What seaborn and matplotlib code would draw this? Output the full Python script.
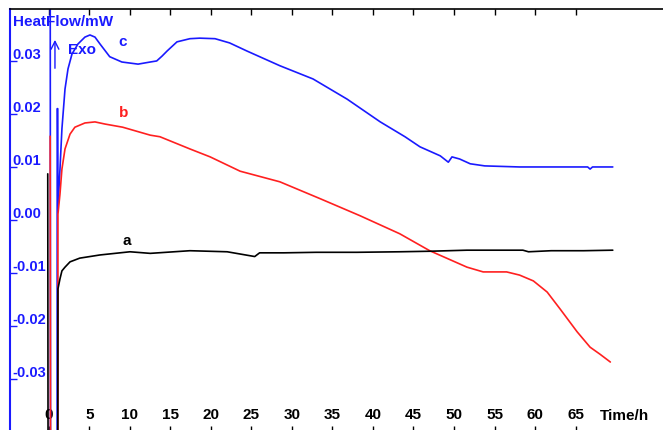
import numpy as np
import pandas as pd
import matplotlib
matplotlib.use("Agg")
import matplotlib.pyplot as plt
import seaborn as sns

# 曲线 a（黑）
t_a = [-0.15, -0.1, 1.08, 1.11, 1.36, 1.6, 1.98, 2.6, 3.8, 6.3, 10.0, 12.5, 17.4, 22.0,
       25.4, 26.0, 29.0, 33.0, 38.0, 43.3, 47.0, 51.6, 56.0, 58.5, 59.2, 62.0, 66.0, 69.6]
v_a = [0.0087, -0.06, -0.06, -0.0130, -0.0111, -0.0096, -0.0089, -0.0079, -0.0072, -0.0066,
       -0.0060, -0.0063, -0.0058, -0.0060, -0.0069, -0.0062, -0.0062, -0.0061, -0.0061, -0.0060,
       -0.0059, -0.0057, -0.0057, -0.0057, -0.0060, -0.0058, -0.0058, -0.0057]

# 曲线 b（红）
t_b = [0.15, 0.2, 1.1, 1.11, 1.36, 1.6, 1.98, 2.6, 3.2, 4.44, 5.68, 6.9, 9.1, 12.5, 13.7,
       17.4, 19.9, 23.6, 28.5, 33.5, 38.4, 43.3, 47.0, 51.6, 53.6, 56.5, 58.1, 59.8, 61.5,
       63.1, 65.2, 66.8, 68.0, 69.3]
v_b = [0.0158, -0.06, -0.06, 0.0011, 0.0049, 0.0096, 0.0134, 0.0162, 0.0175, 0.0183, 0.0185,
       0.0181, 0.0175, 0.0160, 0.0157, 0.0134, 0.0119, 0.0092, 0.0072, 0.0040, 0.0008, -0.0026,
       -0.0058, -0.0089, -0.0098, -0.0098, -0.0104, -0.0115, -0.0136, -0.0168, -0.0211, -0.0240,
       -0.0253, -0.0268]

# 曲线 c（蓝）
t_c = [0.15, 0.2, 1.0, 1.02, 1.08, 1.11, 1.36, 1.6, 1.98, 2.35, 2.84, 3.58, 4.44, 5.06, 5.68,
       6.3, 7.5, 9.0, 11.0, 12.5, 13.3, 13.95, 14.6, 15.8, 17.4, 18.6, 20.5, 22.3, 24.4, 28.5,
       32.6, 36.8, 40.9, 43.95, 45.8, 48.3, 49.3, 49.75, 50.7, 52.0, 53.8, 58.1, 63.1, 66.5,
       66.8, 67.1, 69.6]
v_c = [0.06, -0.06, -0.06, 0.021, 0.021, 0.0021, 0.0096, 0.0172, 0.0247, 0.0285, 0.0313,
       0.0332, 0.0345, 0.0349, 0.0345, 0.0332, 0.0308, 0.0298, 0.0294, 0.0298, 0.0300, 0.0309,
       0.0319, 0.0336, 0.0342, 0.0343, 0.0342, 0.0334, 0.0319, 0.0291, 0.0266, 0.0228, 0.0185,
       0.0157, 0.0138, 0.0121, 0.0109, 0.0119, 0.0115, 0.0106, 0.0102, 0.0100, 0.0100, 0.0100,
       0.0096, 0.0100, 0.0100]

x_ticks = [0, 5, 10, 15, 20, 25, 30, 35, 40, 45, 50, 55, 60, 65]
y_ticks = [-0.03, -0.02, -0.01, 0.00, 0.01, 0.02, 0.03]
y_labels = ["-0.03", "-0.02", "-0.01", "0.00", "0.01", "0.02", "0.03"]

sns.set_style("white")
plt.rcParams["font.family"] = ["Liberation Sans", "DejaVu Sans"]
plt.rcParams["font.weight"] = "bold"

BLUE = "#1a1aff"
RED = "#ff2020"

fig = plt.figure(figsize=(6.63, 4.31), dpi=100)
ax = fig.add_axes([10 / 663, -2 / 431, 653 / 663, 423 / 431])

sns.lineplot(x=t_c, y=v_c, sort=False, estimator=None, color=BLUE, lw=1.2, ax=ax)
sns.lineplot(x=t_b, y=v_b, sort=False, estimator=None, color=RED, lw=1.2, ax=ax)
sns.lineplot(x=t_a, y=v_a, sort=False, estimator=None, color="black", lw=1.2, ax=ax)

ax.set_xlim(-4.81, 75.8)
ax.set_ylim(-0.040, 0.0398)

for s in ["right", "bottom"]:
    ax.spines[s].set_visible(False)
ax.spines["top"].set_color("black")
ax.spines["top"].set_linewidth(1.2)
ax.spines["left"].set_color(BLUE)
ax.spines["left"].set_linewidth(1.5)

ax.set_xticks(x_ticks)
ax.set_xticklabels([str(x) for x in x_ticks])
ax.tick_params(axis="x", direction="in", top=True, bottom=True, length=4, width=1,
               pad=-18, labelsize=11, colors="black")
ax.set_yticks(y_ticks)
ax.set_yticklabels(y_labels)
ax.tick_params(axis="y", direction="in", left=True, length=5, width=1, pad=-2,
               labelsize=10.5, colors=BLUE)
for lab in ax.get_yticklabels():
    lab.set_ha("left")
    lab.set_va("bottom")
    lab.set_fontweight("bold")
for lab in ax.get_xticklabels():
    lab.set_fontweight("bold")

ax.text(0.004, 0.972, "HeatFlow/mW", transform=ax.transAxes, color=BLUE, fontsize=11,
        fontweight="bold", ha="left", va="center")
ax.annotate("", xy=(0.74, 0.0345), xytext=(0.74, 0.0281),
            arrowprops=dict(arrowstyle="->", color=BLUE, lw=1.0, mutation_scale=14))
ax.text(2.4, 0.0322, "Exo", color=BLUE, fontsize=11, fontweight="bold", va="center")
ax.text(71.1, 0.040, "Time/h", transform=ax.get_xaxis_transform(), color="black",
        fontsize=11, fontweight="bold", ha="center", va="center")

ax.text(9.1, 0.0338, "c", color=BLUE, fontsize=11, fontweight="bold", ha="center", va="center")
ax.text(9.2, 0.0204, "b", color=RED, fontsize=11, fontweight="bold", ha="center", va="center")
ax.text(9.6, -0.0038, "a", color="black", fontsize=11, fontweight="bold", ha="center", va="center")

fig.savefig("out.png", dpi=100)
